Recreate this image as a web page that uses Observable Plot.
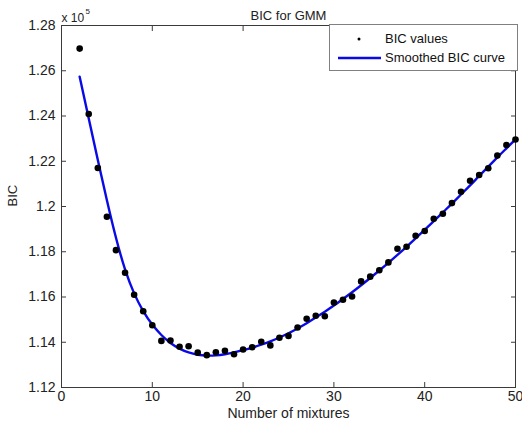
<!DOCTYPE html>
<html>
<head>
<meta charset="utf-8">
<script src="https://cdn.jsdelivr.net/npm/d3@7"></script>
<script src="https://cdn.jsdelivr.net/npm/@observablehq/plot@0.6"></script>
<style>
  html, body { margin: 0; padding: 0; background: white; }
  #wrap { position: relative; width: 522px; height: 427px; font-family: "Liberation Sans", Arial, sans-serif; }
  #legend { position: absolute; left: 329px; top: 24px; width: 187px; height: 45px; border: 1px solid #808080; background: white; font-size: 13px; color: #111; }
  .row { position: absolute; left: 0; height: 18px; line-height: 18px; }
  .lbl { position: absolute; left: 55px; white-space: nowrap; }
</style>
</head>
<body>
<div id="wrap">
  <div id="chart"></div>
  <div id="legend">
    <div class="row" style="top:5px;width:187px;">
      <svg width="50" height="18" style="position:absolute;left:0;top:0"><circle cx="29" cy="9" r="1.5" fill="black"></circle></svg>
      <span class="lbl">BIC values</span>
    </div>
    <div class="row" style="top:24px;width:187px;">
      <svg width="55" height="18" style="position:absolute;left:0;top:0"><line x1="8" y1="9" x2="51" y2="9" stroke="#0a0ae6" stroke-width="2.4"></line></svg>
      <span class="lbl">Smoothed BIC curve</span>
    </div>
  </div>
</div>
<script>
// Number of mixtures (x)
const mixtures = [2,3,4,5,6,7,8,9,10,11,12,13,14,15,16,17,18,19,20,21,22,23,24,25,26,27,28,29,30,31,32,33,34,35,36,37,38,39,40,41,42,43,44,45,46,47,48,49,50];
// BIC values (x 10^5)
const bicValues = [1.2698,1.2409,1.2170,1.1955,1.1807,1.1707,1.1610,1.1537,1.1475,1.1406,1.1408,1.1380,1.1382,1.1354,1.1343,1.1356,1.1362,1.1347,1.1368,1.1378,1.1402,1.1386,1.1420,1.1428,1.1465,1.1504,1.1517,1.1515,1.1576,1.1588,1.1602,1.1669,1.1690,1.1718,1.1753,1.1813,1.1822,1.1871,1.1892,1.1946,1.1968,1.2015,1.2065,1.2114,1.2139,1.2169,1.2225,1.2272,1.2296];
// Smoothed BIC curve (x 10^5)
const smoothedBic = [1.2574,1.2389,1.2206,1.2028,1.1862,1.1722,1.1616,1.1538,1.1478,1.1432,1.1397,1.1372,1.1355,1.1345,1.1341,1.1342,1.1347,1.1355,1.1365,1.1376,1.1389,1.1404,1.1421,1.1440,1.1461,1.1484,1.1509,1.1535,1.1562,1.1591,1.1621,1.1652,1.1684,1.1717,1.1751,1.1786,1.1822,1.1859,1.1897,1.1935,1.1974,1.2013,1.2053,1.2093,1.2135,1.2176,1.2217,1.2257,1.2297];
// Tick values and labels
const xTicks = [0,10,20,30,40,50];
const yTicks = [1.12,1.14,1.16,1.18,1.20,1.22,1.24,1.26,1.28];
const yTickLabels = ["1.12","1.14","1.16","1.18","1.2","1.22","1.24","1.26","1.28"];

const points = mixtures.map((m, i) => ({m, v: bicValues[i]}));
const curve = mixtures.map((m, i) => ({m, v: smoothedBic[i]}));

const axisColor = "#3a3a3a";
const chart = Plot.plot({
  width: 522,
  height: 427,
  marginLeft: 61,
  marginRight: 7,
  marginTop: 25,
  marginBottom: 40,
  style: {fontFamily: "'Liberation Sans', Arial, sans-serif", fontSize: "14px", background: "white", color: "#222"},
  x: {domain: [0, 50]},
  y: {domain: [1.12, 1.28]},
  marks: [
    Plot.frame({stroke: axisColor}),
    Plot.axisX(xTicks, {anchor: "bottom", tickSize: 0, tickPadding: 4, label: null, fill: "#222"}),
    Plot.axisX(xTicks, {anchor: "bottom", tickSize: -5, tickFormat: () => "", label: null, stroke: axisColor}),
    Plot.axisX(xTicks, {anchor: "top", tickSize: -5, tickFormat: () => "", label: null, stroke: axisColor}),
    Plot.axisY(yTicks, {anchor: "left", tickSize: 0, tickPadding: 6, tickFormat: (d, i) => yTickLabels[i], label: null, fill: "#222"}),
    Plot.axisY(yTicks, {anchor: "left", tickSize: -5, tickFormat: () => "", label: null, stroke: axisColor}),
    Plot.axisY(yTicks, {anchor: "right", tickSize: -5, tickFormat: () => "", label: null, stroke: axisColor}),
    Plot.line(curve, {x: "m", y: "v", stroke: "#0a0ae6", strokeWidth: 2.4, curve: "natural"}),
    Plot.dot(points, {x: "m", y: "v", r: 3.3, fill: "black", stroke: "none"}),
    Plot.text(["BIC for GMM"], {frameAnchor: "top", dy: -15, fontSize: 13, fill: "#222"}),
    Plot.text(["x 10"], {frameAnchor: "top-left", dy: -12, dx: 0, textAnchor: "start", fontSize: 12, fill: "#222"}),
    Plot.text(["5"], {frameAnchor: "top-left", dy: -17, dx: 24, textAnchor: "start", fontSize: 8, fill: "#222"}),
    Plot.text(["BIC"], {frameAnchor: "left", dx: -49, rotate: -90, fontSize: 13, fill: "#222"}),
    Plot.text(["Number of mixtures"], {frameAnchor: "bottom", dy: 30, fontSize: 14, fill: "#222"})
  ]
});
document.getElementById("chart").appendChild(chart);
</script>
</body>
</html>
